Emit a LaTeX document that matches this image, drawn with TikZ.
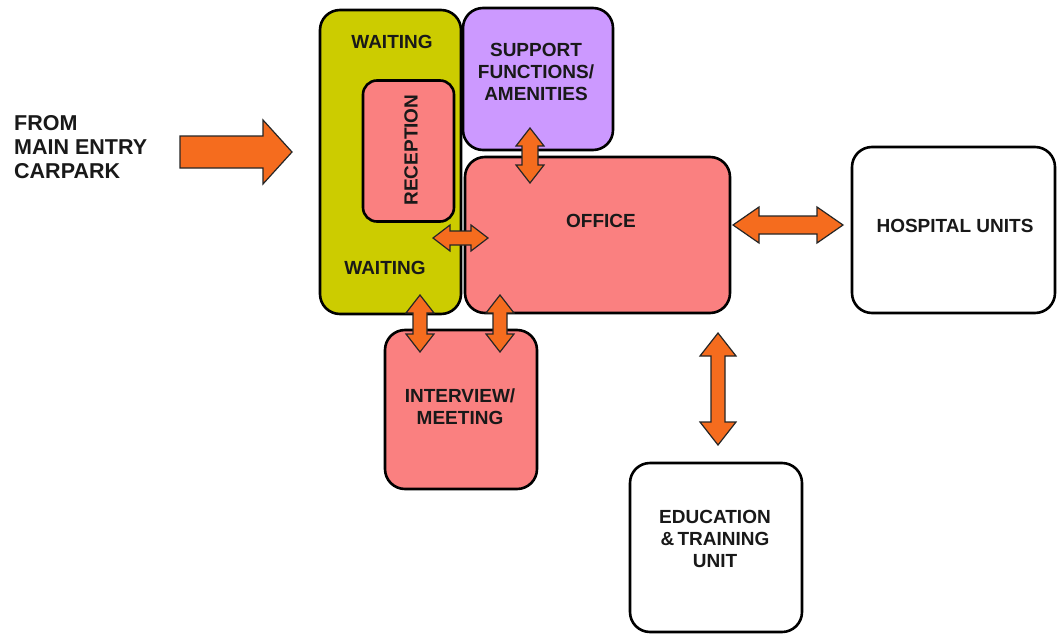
\documentclass[tikz,border=0pt]{standalone}
\usepackage{fontspec}
\setmainfont{Liberation Sans}
\usetikzlibrary{calc}
\definecolor{olivebox}{RGB}{204,204,0}
\definecolor{pinkbox}{RGB}{250,128,128}
\definecolor{purplebox}{RGB}{204,153,255}
\definecolor{arroworange}{RGB}{245,108,30}
\tikzset{
  room/.style={draw=black, line width=2.6pt, rounded corners=20pt, inner sep=0pt, outer sep=0pt},
  lbl/.style={font=\bfseries\fontsize{19}{22}\selectfont, text=black!90, align=center, inner sep=0pt},
  biglbl/.style={lbl, font=\bfseries\fontsize{21.5}{24}\selectfont, align=left},
  blockarrow/.style={fill=arroworange, draw=black!85, line width=1.2pt, line join=miter}
}
\newcommand\dblarrow[5]{% from, to, half shaft, half head, head length
  \draw[blockarrow] (#1) -- ($(#1)!#5!(#2)!#4!90:(#2)$) -- ($(#1)!#5!(#2)!#3!90:(#2)$)
    -- ($(#2)!#5!(#1)!#3!-90:(#1)$) -- ($(#2)!#5!(#1)!#4!-90:(#1)$) -- (#2)
    -- ($(#2)!#5!(#1)!#4!90:(#1)$) -- ($(#2)!#5!(#1)!#3!90:(#1)$)
    -- ($(#1)!#5!(#2)!#3!-90:(#2)$) -- ($(#1)!#5!(#2)!#4!-90:(#2)$) -- cycle;}
\newcommand\sglarrow[5]{% from, to, half shaft, half head, head length
  \draw[blockarrow] ($(#1)!#3!90:(#2)$) -- ($(#2)!#5!(#1)!#3!-90:(#1)$)
    -- ($(#2)!#5!(#1)!#4!-90:(#1)$) -- (#2)
    -- ($(#2)!#5!(#1)!#4!90:(#1)$) -- ($(#2)!#5!(#1)!#3!90:(#1)$)
    -- ($(#1)!#3!-90:(#2)$) -- cycle;}
\begin{document}
\begin{tikzpicture}[x=1pt, y=-1pt]
\useasboundingbox (0,0) rectangle (1057,634);
\fill[white] (0,0) rectangle (1057,634);

% rooms
\node[room, fill=olivebox, minimum width=141pt, minimum height=304pt] (waiting) at (390.5,162) {};
\node[room, fill=pinkbox, rounded corners=14pt, minimum width=91pt, minimum height=141pt] (reception) at (408.5,151) {};
\node[room, fill=purplebox, minimum width=150pt, minimum height=142pt] (support) at (538,79) {};
\node[room, fill=pinkbox, minimum width=265pt, minimum height=156pt] (office) at (597.5,235) {};
\node[room, fill=pinkbox, minimum width=152pt, minimum height=159pt] (interview) at (461,409.5) {};
\node[room, fill=white, minimum width=203pt, minimum height=166pt] (hospital) at (953.5,230) {};
\node[room, fill=white, minimum width=172pt, minimum height=169pt] (education) at (716,547.5) {};

% labels
\node[biglbl, anchor=west] (fromtxt) at (14,147) {FROM\\MAIN ENTRY\\CARPARK};
\node[lbl] (waitingtop) at (392,42) {WAITING};
\node[lbl] (waitingbot) at (385,268) {WAITING};
\node[lbl, rotate=90] (receptiontxt) at (411,150) {RECEPTION};
\node[lbl] (supporttxt) at (536,72) {SUPPORT\\FUNCTIONS/\\AMENITIES};
\node[lbl] (officetxt) at (601,221) {OFFICE};
\node[lbl] (interviewtxt) at (460,407) {INTERVIEW/\\MEETING};
\node[lbl] (hospitaltxt) at (955,226) {HOSPITAL UNITS};
\node[lbl] (educationtxt) at (715,539) {EDUCATION\\\&\,TRAINING\\UNIT};

% arrow end points
\coordinate (entry) at (180,152);
\coordinate (entryend) at ($(waiting.west)+(-28,-10)$);
\coordinate (a1s) at ($(support.south)+(-8,-22)$);
\coordinate (a1e) at ($(office.north)+(-67.5,26)$);
\coordinate (a2s) at ($(waiting.east |- office.center)+(-28,3)$);
\coordinate (a2e) at ($(office.west)+(23,3)$);
\coordinate (a3s) at ($(waiting.south)+(29.5,-19)$);
\coordinate (a3e) at ($(interview.north)+(-41,22)$);
\coordinate (a4s) at ($(office.south)+(-97.5,-18)$);
\coordinate (a4e) at ($(interview.north)+(39,22)$);
\coordinate (a5s) at ($(office.east)+(3,-10)$);
\coordinate (a5e) at ($(hospital.west)+(-9,-5)$);
\coordinate (a6s) at ($(office.south)+(120.5,20)$);
\coordinate (a6e) at ($(education.north)+(2,-18)$);

% arrows
\sglarrow{entry}{entryend}{16pt}{32pt}{29pt}
\dblarrow{a1s}{a1e}{8pt}{14pt}{18pt}
\dblarrow{a2s}{a2e}{7pt}{13pt}{17pt}
\dblarrow{a3s}{a3e}{7pt}{14pt}{18pt}
\dblarrow{a4s}{a4e}{7pt}{14pt}{18pt}
\dblarrow{a5s}{a5e}{9pt}{18pt}{26pt}
\dblarrow{a6s}{a6e}{7pt}{18pt}{23pt}
\end{tikzpicture}
\end{document}
